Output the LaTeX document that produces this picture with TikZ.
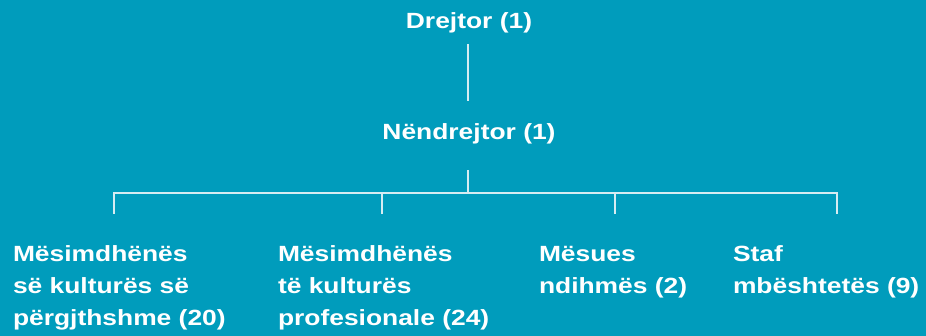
\documentclass[tikz,border=0pt]{standalone}
\usepackage{fontspec}
\setmainfont{Liberation Sans}[FakeStretch=1.2]
\definecolor{bg}{RGB}{0,156,188}
\definecolor{linec}{RGB}{214,236,242}
\begin{document}
\begin{tikzpicture}[x=1pt,y=-1pt,
  lbl/.style={text=white,font=\fontsize{22}{32}\selectfont\bfseries,inner sep=0pt,outer sep=0pt},
  blk/.style={lbl,align=left,anchor=base west},
  conn/.style={draw=linec,line width=1.3pt}]
\fill[bg] (0,0) rectangle (926,336);
\useasboundingbox (0,0) rectangle (926,336);
\node[lbl,anchor=base] (top) at (469,28.5) {Drejtor (1)};
\node[lbl,anchor=base] (deputy) at (469,139.5) {Nëndrejtor (1)};
\node[blk] (a) at (13,325.5) {Mësimdhënës\\së kulturës së\\përgjthshme (20)};
\node[blk] (b) at (278,325.5) {Mësimdhënës\\të kulturës\\profesionale (24)};
\node[blk] (c) at (539,293.5) {Mësues\\ndihmës (2)};
\node[blk] (d) at (733,293.5) {Staf\\mbështetës (9)};
\coordinate (bar) at (468,193);
\coordinate (t1) at (114,214);
\coordinate (t2) at (382,214);
\coordinate (t3) at (615,214);
\coordinate (t4) at (837,214);
\draw[conn] (top.south -| bar) ++(0,11) -- (468,101);
\draw[conn] (deputy.south -| bar) ++(0,26) -- (bar);
\draw[conn] (t1) |- (bar) -| (t4);
\draw[conn] (t2) -- (t2 |- bar);
\draw[conn] (t3) -- (t3 |- bar);
\end{tikzpicture}
\end{document}
